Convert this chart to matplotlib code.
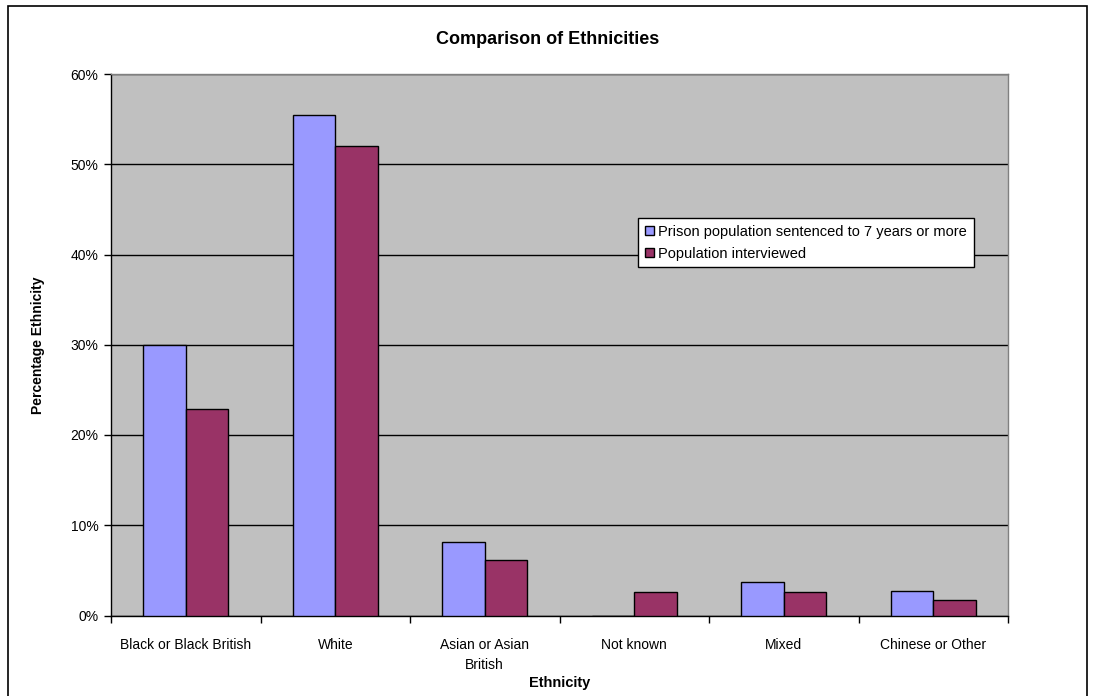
import numpy as np
import matplotlib
matplotlib.use("Agg")
import matplotlib.pyplot as plt
from matplotlib.ticker import PercentFormatter, FixedLocator
from matplotlib.patches import Rectangle

plt.rcParams['font.family'] = ['Liberation Sans', 'DejaVu Sans']

# share of each ethnic group (%)
categories = ["Black or Black British", "White", "Asian or Asian\nBritish",
              "Not known", "Mixed", "Chinese or Other"]
prison = [30.0, 55.5, 8.1, 0.0, 3.7, 2.7]
interviewed = [22.9, 52.0, 6.1, 2.6, 2.6, 1.7]
series_names = ["Prison population sentenced to 7 years or more",
                "Population interviewed"]

fig = plt.figure(figsize=(10.94, 6.96), dpi=100)
ax = fig.add_axes([111/1094, 1 - 615.5/696, 897/1094, 541.5/696])
ax.set_facecolor('#C0C0C0')

x = np.arange(len(categories))
w = 2/7
ax.bar(x - w/2, prison, w, color='#9999FF', edgecolor='black', linewidth=1,
       label=series_names[0], zorder=3)
ax.bar(x + w/2, interviewed, w, color='#993366', edgecolor='black', linewidth=1,
       label=series_names[1], zorder=3)

ax.set_xlim(-0.5, len(categories) - 0.5)
ax.set_ylim(0, 60)
ax.yaxis.set_major_locator(FixedLocator(np.arange(0, 61, 10)))
ax.yaxis.set_major_formatter(PercentFormatter(decimals=0))
ax.grid(axis='y', color='black', linewidth=1, zorder=1)
ax.set_axisbelow(True)

ax.set_xticks(x)
ax.set_xticklabels(categories, fontsize=10, linespacing=1.6)
ax.set_xticks(np.arange(-0.5, len(categories)), minor=True)
ax.tick_params(axis='x', which='major', length=0, pad=16)
ax.tick_params(axis='x', which='minor', length=5, width=1, direction='out')
ax.tick_params(axis='y', length=5, width=1, direction='out', labelsize=10, pad=4)

for side in ['left', 'bottom']:
    ax.spines[side].set_linewidth(1)
for side in ['top', 'right']:
    ax.spines[side].set_color('#808080')
    ax.spines[side].set_linewidth(1)

fig.text(548/1094, 1 - 40/696, "Comparison of Ethnicities", ha='center', va='center',
         fontsize=13, fontweight='bold')
fig.text(38/1094, 1 - 345/696, "Percentage Ethnicity", ha='center', va='center',
         rotation=90, fontsize=10, fontweight='bold')
fig.text(560/1094, 1 - 683/696, "Ethnicity", ha='center', va='center',
         fontsize=10.5, fontweight='bold')

leg = ax.legend(loc='upper left', bbox_to_anchor=((638-111)/897, (615.5-218)/541.5),
                fontsize=10.5, frameon=True, fancybox=False, framealpha=1,
                edgecolor='black', handlelength=0.65, handleheight=0.65,
                handletextpad=0.3, borderpad=0.45, labelspacing=0.55,
                borderaxespad=0)
leg.get_frame().set_linewidth(1)

# outer chart border
fig.patches.append(Rectangle((8/1094, -0.05), (1087-8)/1094, 1.05 - 6/696,
                             transform=fig.transFigure, fill=False,
                             edgecolor='black', linewidth=1.2))

fig.savefig("out.png", dpi=100)
